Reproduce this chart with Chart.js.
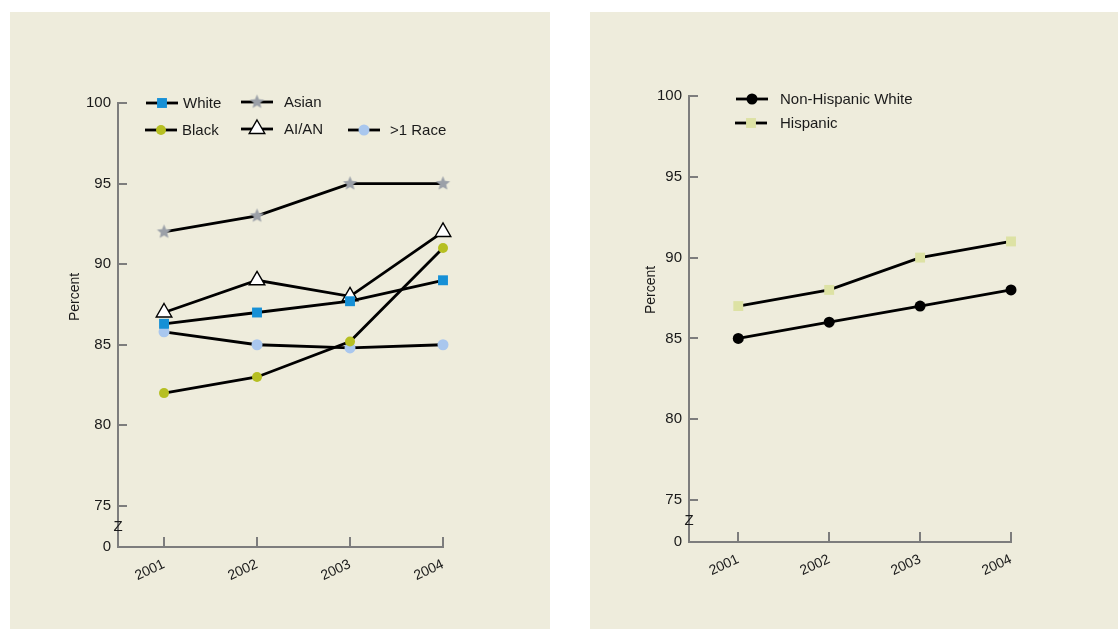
<!DOCTYPE html>
<html><head><meta charset="utf-8">
<script src="https://cdn.jsdelivr.net/npm/chart.js@4/dist/chart.umd.min.js"></script>
<style>
html,body{margin:0;padding:0;background:#fff;width:1118px;height:629px;overflow:hidden}
.panel{position:absolute;background:#eeecdc}
#p1{left:10px;top:12px;width:540px;height:617px}
#p2{left:590px;top:12px;width:528px;height:617px}
canvas{display:block}
</style></head><body>
<div class="panel" id="p1"><canvas id="c1" width="540" height="617"></canvas></div>
<div class="panel" id="p2"><canvas id="c2" width="528" height="617"></canvas></div>
<script>
// ---- data ----
const years = [2001, 2002, 2003, 2004];
const yTickValues = [75, 80, 85, 90, 95, 100];
const breakLabel = '0';
const yAxisTitle = 'Percent';

const raceLabels = ['White', 'Asian', 'Black', 'AI/AN', '>1 Race'];
const whiteValues = [86.3, 87, 87.7, 89];
const asianValues = [92, 93, 95, 95];
const blackValues = [82, 83, 85.2, 91];
const aianValues = [87, 89, 88, 92];
const multiRaceValues = [85.8, 85, 84.8, 85];

const ethnicityLabels = ['Non-Hispanic White', 'Hispanic'];
const nonHispWhiteValues = [85, 86, 87, 88];
const hispanicValues = [87, 88, 90, 91];

// ---- styling ----
const FONT = '"Liberation Sans", Arial, Helvetica, sans-serif';
const axisColor = '#7d7d7d';
const textColor = '#1a1a1a';

function makeStar(r, color) {
  const c = document.createElement('canvas');
  const s = Math.ceil(r * 2 + 2);
  c.width = s; c.height = s;
  const g = c.getContext('2d');
  g.fillStyle = color;
  g.beginPath();
  for (let i = 0; i < 10; i++) {
    const rr = i % 2 ? r * 0.45 : r;
    const a = -Math.PI / 2 + i * Math.PI / 5;
    g.lineTo(s / 2 + rr * Math.cos(a), s / 2 + rr * Math.sin(a));
  }
  g.closePath();
  g.fill();
  return c;
}
const starImg = makeStar(7.5, '#9ba0a8');

function series(label, values, style) {
  return Object.assign({
    label,
    data: values.map((v, i) => ({ x: years[i], y: v })),
    borderColor: '#000',
    borderWidth: 2.8,
    tension: 0,
    fill: false,
    clip: false,
    pointBorderWidth: 0,
    pointHoverRadius: 0
  }, style);
}

function makeScales(yMin, xMin, yWidth, xHeight) {
  return {
    x: {
      type: 'linear', min: xMin, max: years[years.length - 1],
      afterBuildTicks: s => { s.ticks = years.map(v => ({ value: v })); },
      afterFit: s => { s.height = xHeight; },
      grid: { display: false, drawTicks: false },
      border: { display: true, color: axisColor, width: 2 },
      ticks: { autoSkip: false, minRotation: 25, maxRotation: 25, padding: 9, color: textColor,
               font: { family: FONT, size: 14 }, callback: v => String(v) }
    },
    y: {
      type: 'linear', min: yMin, max: 100,
      afterBuildTicks: s => { s.ticks = [{ value: yMin }].concat(yTickValues.map(v => ({ value: v }))); },
      afterFit: s => { s.width = yWidth; },
      grid: { display: false, drawTicks: false },
      border: { display: true, color: axisColor, width: 2 },
      ticks: { autoSkip: false, padding: 7, color: textColor, font: { family: FONT, size: 15 },
               callback: v => (v === yMin ? breakLabel : String(v)) }
    }
  };
}

const decor = {
  id: 'decor',
  afterDraw(chart, args, opts) {
    const { ctx, chartArea: ca, scales: { x, y } } = chart;
    ctx.save();
    ctx.strokeStyle = axisColor; ctx.lineWidth = 2;
    yTickValues.forEach(v => {
      const py = Math.round(y.getPixelForValue(v));
      ctx.beginPath(); ctx.moveTo(ca.left, py); ctx.lineTo(ca.left + 9, py); ctx.stroke();
    });
    years.forEach(v => {
      const px = Math.round(x.getPixelForValue(v));
      ctx.beginPath(); ctx.moveTo(px, ca.bottom); ctx.lineTo(px, ca.bottom - 10); ctx.stroke();
    });
    // axis break mark
    ctx.fillStyle = textColor;
    ctx.font = '15px ' + FONT;
    ctx.textAlign = 'center'; ctx.textBaseline = 'middle';
    ctx.fillText('Z', ca.left, y.getPixelForValue((y.min + yTickValues[0]) / 2));
    // axis title
    ctx.save();
    ctx.translate(opts.titleX, opts.titleY);
    ctx.rotate(-Math.PI / 2);
    ctx.font = '14px ' + FONT;
    ctx.fillText(yAxisTitle, 0, 0);
    ctx.restore();
    // legend
    opts.legend.forEach(item => {
      const d = chart.data.datasets[item.index];
      ctx.strokeStyle = '#000'; ctx.lineWidth = 2.8;
      ctx.beginPath(); ctx.moveTo(item.x - 16, item.y); ctx.lineTo(item.x + 16, item.y); ctx.stroke();
      ctx.fillStyle = d.pointBackgroundColor;
      ctx.strokeStyle = d.pointBorderColor || '#000';
      ctx.lineWidth = d.pointBorderWidth;
      Chart.helpers.drawPoint(ctx, { pointStyle: d.pointStyle, radius: d.pointRadius, rotation: 0,
        borderWidth: d.pointBorderWidth }, item.x, item.y);
      ctx.fillStyle = textColor;
      ctx.font = '15px ' + FONT;
      ctx.textAlign = 'left'; ctx.textBaseline = 'middle';
      ctx.fillText(d.label, item.tx, item.y + 1);
    });
    ctx.restore();
  }
};

const common = {
  responsive: false,
  animation: false,
  events: [],
  plugins: { legend: { display: false }, tooltip: { enabled: false } }
};

// ---- left chart ----
const yMinLeft = 72.45;
new Chart(document.getElementById('c1'), {
  type: 'line',
  data: {
    datasets: [
      series(raceLabels[0], whiteValues, { pointStyle: 'rect', pointRadius: 7, pointBackgroundColor: '#1690d6' }),
      series(raceLabels[1], asianValues, { pointStyle: starImg, pointRadius: 8, pointBackgroundColor: '#9ba0a8' }),
      series(raceLabels[2], blackValues, { pointStyle: 'circle', pointRadius: 5, pointBackgroundColor: '#b6bf22' }),
      series(raceLabels[3], aianValues, { pointStyle: 'triangle', pointRadius: 9, pointBackgroundColor: '#ffffff',
        pointBorderColor: '#000', pointBorderWidth: 1.4 }),
      series(raceLabels[4], multiRaceValues, { pointStyle: 'circle', pointRadius: 5.5, pointBackgroundColor: '#a9c7ee' })
    ]
  },
  options: Object.assign({}, common, {
    layout: { padding: { left: 0, top: 91, right: 107, bottom: 0 } },
    scales: makeScales(yMinLeft, 2000.505, 108, 82),
    plugins: Object.assign({}, common.plugins, {
      decor: {
        titleX: 65, titleY: 285,
        legend: [
          { index: 0, x: 152, y: 91, tx: 173 },
          { index: 1, x: 247, y: 90, tx: 274 },
          { index: 2, x: 151, y: 118, tx: 172 },
          { index: 3, x: 247, y: 117, tx: 274 },
          { index: 4, x: 354, y: 118, tx: 380 }
        ]
      }
    })
  }),
  plugins: [decor]
});

// ---- right chart ----
const yMinRight = 72.4;
new Chart(document.getElementById('c2'), {
  type: 'line',
  data: {
    datasets: [
      series(ethnicityLabels[0], nonHispWhiteValues, { pointStyle: 'circle', pointRadius: 5.5, pointBackgroundColor: '#000' }),
      series(ethnicityLabels[1], hispanicValues, { pointStyle: 'rect', pointRadius: 7, pointBackgroundColor: '#dde2a4' })
    ]
  },
  options: Object.assign({}, common, {
    layout: { padding: { left: 0, top: 84, right: 107, bottom: 0 } },
    scales: makeScales(yMinRight, 2000.458, 99, 87),
    plugins: Object.assign({}, common.plugins, {
      decor: {
        titleX: 61, titleY: 278,
        legend: [
          { index: 0, x: 162, y: 87, tx: 190 },
          { index: 1, x: 161, y: 111, tx: 190 }
        ]
      }
    })
  }),
  plugins: [decor]
});
</script>
</body></html>
